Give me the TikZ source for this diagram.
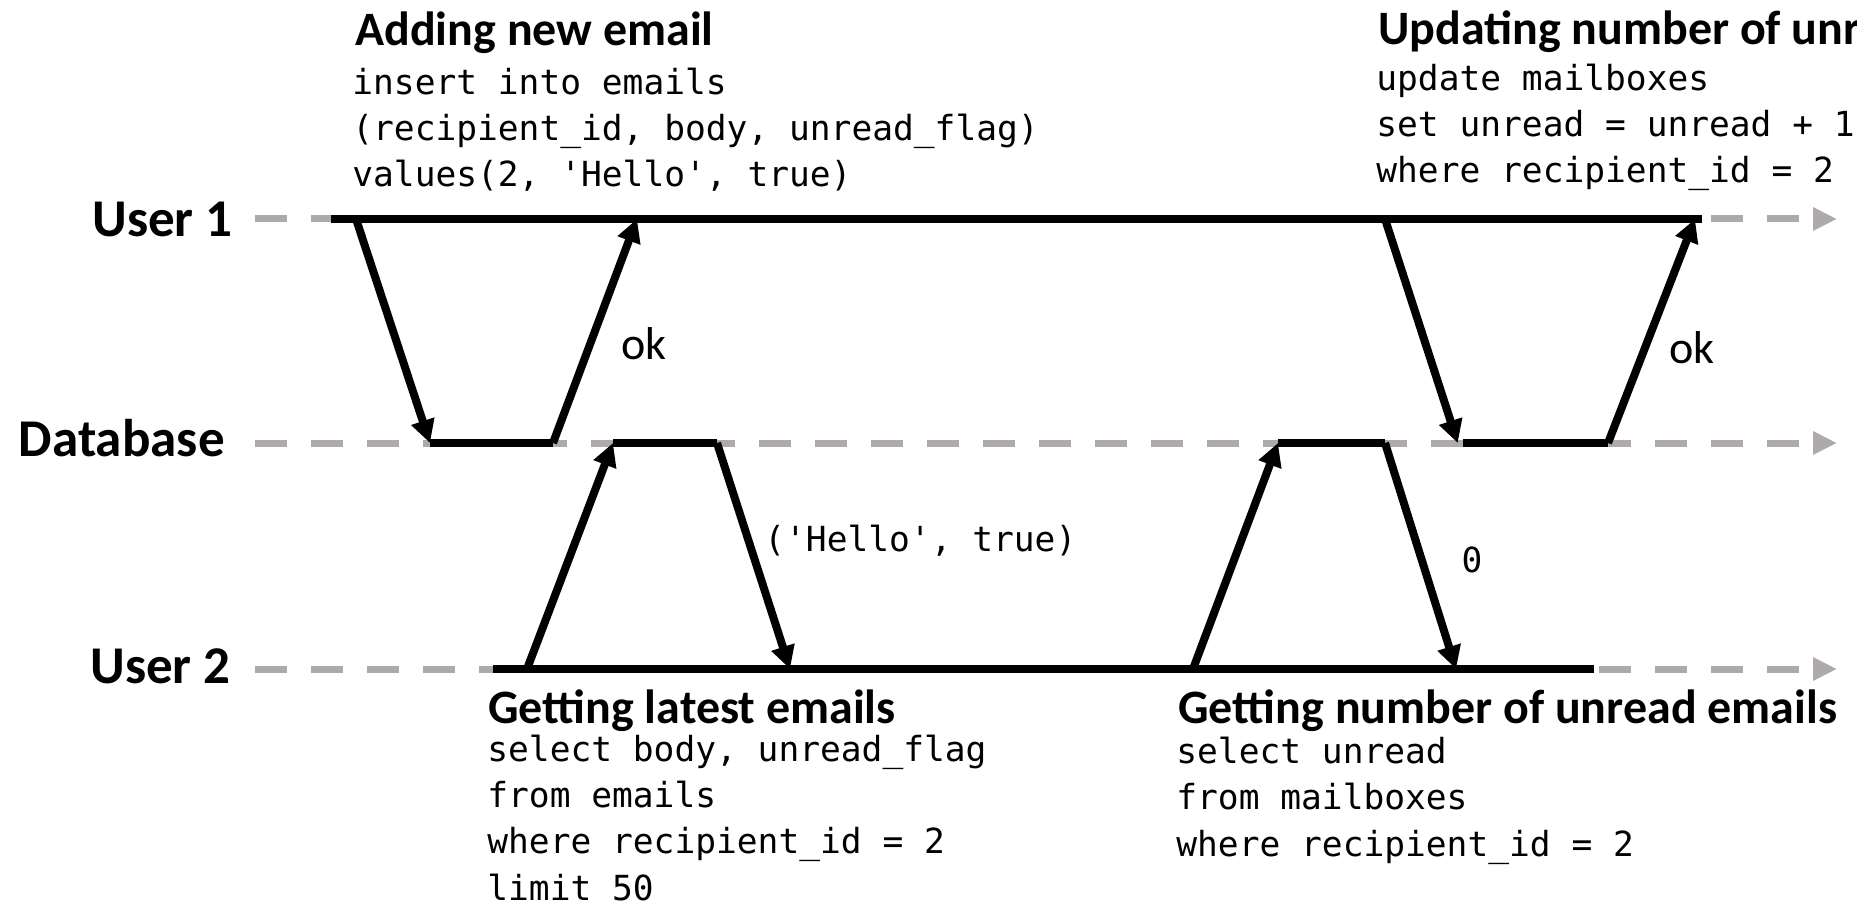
\documentclass[tikz,border=0pt]{standalone}
\usepackage{fontspec}
\setmainfont{Carlito}
\newfontfamily\sqlfont{DejaVu Sans Mono}
\usetikzlibrary{arrows.meta}
\definecolor{lanegray}{HTML}{AEAAAA}
\newcommand{\apos}{\textquotesingle}

\begin{document}
\begin{tikzpicture}[x=0.2mm, y=-0.2mm,
  lane/.style={draw=lanegray, line width=1.4mm, dash pattern=on 6.4mm off 4.8mm, -{Triangle[length=4.8mm, width=4.4mm]}},
  bar/.style={draw, line width=1.6mm},
  msg/.style={draw, line width=1.6mm, -{Triangle[length=4.6mm, width=4.6mm]}},
  lbl/.style={font=\fontsize{30.2pt}{34pt}\selectfont\bfseries, anchor=east, inner sep=0pt},
  ttl/.style={font=\fontsize{27.3pt}{30pt}\selectfont\bfseries, anchor=base west, inner sep=0pt},
  sql/.style={font=\fontsize{19.66pt}{26.2pt}\sqlfont, align=left, anchor=base west, inner sep=0pt},
  ans/.style={font=\fontsize{26.2pt}{30pt}\selectfont, inner sep=0pt}]
  \fill[white] (0,0) rectangle (1857,905);
  \useasboundingbox (0,0) rectangle (1857,905);

  % timelines
  \node[lbl] (user1) at (233,219) {User 1};
  \node[lbl] (db) at (225,438) {Database};
  \node[lbl] (user2) at (231,666) {User 2};
  \foreach \y in {219,443,669}
    \draw[lane] (255,\y) -- (1837,\y);

  % message end points
  \coordinate (a1s) at (356,219);  \coordinate (a1e) at (430,443);
  \coordinate (a2s) at (553,443);  \coordinate (a2e) at (637,219);
  \coordinate (b1s) at (527,669);  \coordinate (b1e) at (613,443);
  \coordinate (b2s) at (717,443);  \coordinate (b2e) at (790,669);
  \coordinate (c1s) at (1193,669); \coordinate (c1e) at (1278,443);
  \coordinate (c2s) at (1385,443); \coordinate (c2e) at (1456,669);
  \coordinate (d1s) at (1385,219); \coordinate (d1e) at (1463,443);
  \coordinate (d2s) at (1608,443); \coordinate (d2e) at (1695,219);

  % busy periods
  \draw[bar] (331,219) -- (1702,219);
  \draw[bar] (493,669) -- (1594,669);
  \draw[bar] (a1e) -- (a2s);
  \draw[bar] (b1e) -- (b2s);
  \draw[bar] (c1e) -- (c2s);
  \draw[bar] (d1e) -- (d2s);

  % requests and replies
  \draw[msg] (a1s) -- (a1e);
  \draw[msg] (a2s) -- (a2e);
  \draw[msg] (b1s) -- (b1e);
  \draw[msg] (b2s) -- (b2e);
  \draw[msg] (c1s) -- (c1e);
  \draw[msg] (c2s) -- (c2e);
  \draw[msg] (d1s) -- ([xshift=-3]d1e);
  \draw[msg] (d2s) -- (d2e);

  \node[ans] (ok1) at (644,344) {ok};
  \node[ans] (ok2) at (1692,348) {ok};
  \node[sql, anchor=west] (res1) at (764,541) {(\apos Hello\apos, true)};
  \node[sql, anchor=center] (res2) at (1472,560) {0};

  % queries (placed by the baseline of their last line)
  \node[ttl] (addT) at (355,46) {Adding new email};
  \node[sql] (addQ) at (352,187) {insert into emails\\(recipient\_id, body, unread\_flag)\\values(2, \apos Hello\apos, true)};
  \node[ttl] (updT) at (1378,45) {Updating number of unread emails};
  \node[sql] (updQ) at (1376,183) {update mailboxes\\set unread = unread + 1\\where recipient\_id = 2};
  \node[ttl] (getT) at (488,723) {Getting latest emails};
  \node[sql] (getQ) at (487,900) {select body, unread\_flag\\from emails\\where recipient\_id = 2\\limit 50};
  \node[ttl] (cntT) at (1178,723) {Getting number of unread emails};
  \node[sql] (cntQ) at (1176,856) {select unread\\from mailboxes\\where recipient\_id = 2};
\end{tikzpicture}
\end{document}
